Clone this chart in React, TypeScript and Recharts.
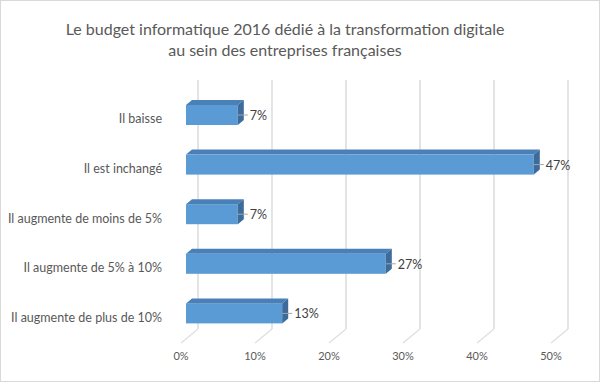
import React from "react";
import {
    Bar,
    BarChart,
    CartesianGrid,
    LabelList,
    XAxis,
    YAxis
} from "recharts";

const categories = [
    "Il baisse",
    "Il est inchangé",
    "Il augmente de moins de 5%",
    "Il augmente de 5% à 10%",
    "Il augmente de plus de 10%"
];
const shares = [7, 47, 7, 27, 13];
const axisTicks = [0, 10, 20, 30, 40, 50];

const data = categories.map((name, i) => ({ name, value: shares[i] }));

const FONT = "Lato, 'Open Sans', sans-serif";
const TEXT = "#595959";
const GRID = "#dedede";
// depth of the 3d box, in pixels
const DX = 6;
const DY = 5;

function Box3D(props: any) {
    const { x, y, width, height } = props;
    if (width <= 0) return null;
    const r = x + width;
    return (
        <g>
            <rect x={x} y={y} width={width} height={height} fill="#5b9bd5" />
            <polygon
                points={`${x},${y} ${x + DX},${y - DY} ${r + DX},${y - DY} ${r},${y}`}
                fill="#4a80b8"
            />
            <polygon
                points={`${r},${y} ${r + DX},${y - DY} ${r + DX},${y + height - DY} ${r},${y + height}`}
                fill="#3d6b9b"
            />
        </g>
    );
}

function ValueLabel(props: any) {
    const { x, y, width, height, value } = props;
    const end = x + width;
    const cy = y + height / 2;
    return (
        <g>
            <line x1={end} y1={cy} x2={end + 10} y2={cy} stroke="#a6a6a6" strokeWidth={1} />
            <text x={end + 12} y={cy + 5} fill="#404040" fontSize={12.5} fontFamily={FONT}>
                {value}%
            </text>
        </g>
    );
}

function CategoryTick(props: any) {
    const { x, y, payload } = props;
    return (
        <text x={x - 16} y={y + 8.5} textAnchor="end" fill={TEXT} fontSize={12.5} fontFamily={FONT}>
            {payload.value}
        </text>
    );
}

function PercentTick(props: any) {
    const { x, payload } = props;
    return (
        <text x={x - 5} y={360} textAnchor="middle" fill={TEXT} fontSize={11} fontFamily={FONT}>
            {payload.value}%
        </text>
    );
}

// back wall gridline plus the diagonal running to the floor edge
function GridLine(props: any) {
    const { x1, y1, y2, key } = props;
    const bx = x1 + 12;
    return (
        <g key={key}>
            <line x1={bx} y1={y1 - 10} x2={bx} y2={y2 - 9} stroke={GRID} strokeWidth={1.6} />
            <line x1={bx} y1={y2 - 9} x2={x1 - 5} y2={y2 + 5} stroke={GRID} strokeWidth={1.2} />
        </g>
    );
}

export default function App() {
    return (
        <div
            style={{
                position: "absolute",
                left: 0,
                top: 0,
                width: 600,
                height: 382,
                boxSizing: "border-box",
                border: "1px solid #d9d9d9",
                background: "#fff"
            }}
        >
            <div
                style={{
                    position: "absolute",
                    left: -1,
                    top: 17,
                    width: 570,
                    textAlign: "center",
                    fontFamily: FONT,
                    fontSize: 16,
                    lineHeight: "21px",
                    color: TEXT
                }}
            >
                Le budget informatique 2016 dédié à la transformation digitale
                <br />
                au sein des entreprises françaises
            </div>
            <div style={{ position: "absolute", left: -1, top: -1 }}>
                <BarChart
                    width={600}
                    height={382}
                    data={data}
                    layout="vertical"
                    margin={{ top: 90, right: 44, bottom: 0, left: 0 }}
                >
                    <CartesianGrid horizontal={false} vertical={GridLine} />
                    <XAxis
                        type="number"
                        domain={[0, 50]}
                        ticks={axisTicks}
                        axisLine={false}
                        tickLine={false}
                        height={44}
                        tick={<PercentTick />}
                        interval={0}
                    />
                    <YAxis
                        type="category"
                        dataKey="name"
                        width={186}
                        axisLine={false}
                        tickLine={false}
                        tick={<CategoryTick />}
                        interval={0}
                    />
                    <Bar dataKey="value" barSize={20} shape={<Box3D />} isAnimationActive={false}>
                        <LabelList dataKey="value" content={<ValueLabel />} />
                    </Bar>
                </BarChart>
            </div>
        </div>
    );
}
